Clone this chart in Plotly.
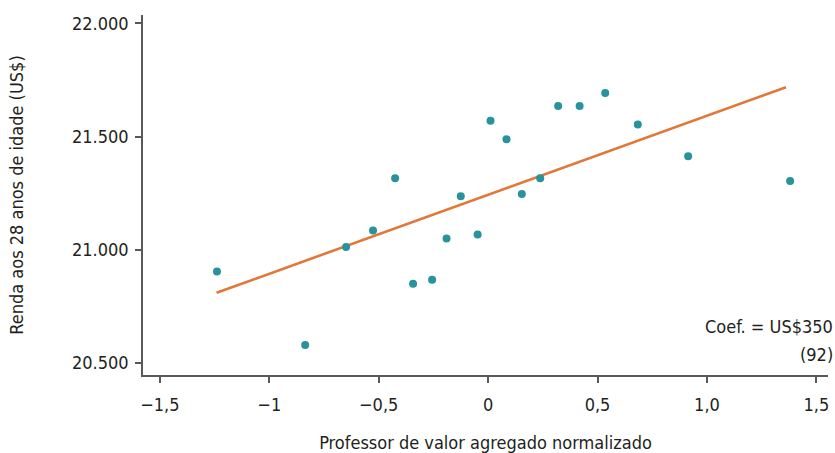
import plotly.graph_objects as go

# Data
teacher_va = [-1.239, -0.836, -0.649, -0.526, -0.425, -0.343, -0.256, -0.190, -0.125, -0.048,
              0.011, 0.084, 0.154, 0.238, 0.320, 0.418, 0.535, 0.684, 0.914, 1.380]
income_28 = [20904, 20580, 21012, 21085, 21316, 20850, 20868, 21050, 21237, 21067,
             21570, 21488, 21246, 21316, 21635, 21635, 21693, 21553, 21413, 21304]
fit_x = [-1.241, 1.361]
fit_y = [20810, 21718]

x_tickvals = [-1.5, -1, -0.5, 0, 0.5, 1.0, 1.5]
x_ticktext = ["−1,5", "−1", "−0,5", "0", "0,5", "1,0", "1,5"]
y_tickvals = [20500, 21000, 21500, 22000]
y_ticktext = ["20.500", "21.000", "21.500", "22.000"]

FONT = "Liberation Sans Narrow, DejaVu Sans Condensed, Arial Narrow, sans-serif"
TXT = "#231f20"
AX = "#58595b"

fig = go.Figure()
fig.add_trace(go.Scatter(x=fit_x, y=fit_y, mode="lines",
                         line=dict(color="#e2773a", width=2.6), hoverinfo="skip"))
fig.add_trace(go.Scatter(x=teacher_va, y=income_28, mode="markers",
                         marker=dict(color="#28939a", size=8, line=dict(width=0))))

fig.update_layout(
    width=835, height=453,
    margin=dict(l=143, r=7, t=15, b=78),
    plot_bgcolor="white", paper_bgcolor="white",
    showlegend=False,
    font=dict(family=FONT, size=18, color=TXT),
    xaxis=dict(range=[-1.577, 1.553], tickvals=x_tickvals, ticktext=x_ticktext,
               automargin=False,
               showgrid=False, zeroline=False, showline=True, linecolor=AX, linewidth=1.5,
               ticks="outside", ticklen=6, tickcolor=AX, tickwidth=1.5,
               ticklabelstandoff=7,
               tickfont=dict(size=18, color=TXT),
               title=dict(text="Professor de valor agregado normalizado",
                          font=dict(size=18, color=TXT), standoff=22)),
    yaxis=dict(range=[20447, 22037], tickvals=y_tickvals, ticktext=y_ticktext,
               automargin=False,
               showgrid=False, zeroline=False, showline=True, linecolor=AX, linewidth=1.5,
               ticks="outside", ticklen=6, tickcolor=AX, tickwidth=1.5,
               ticklabelstandoff=3,
               tickfont=dict(size=18, color=TXT),
               title=dict(text="Renda aos 28 anos de idade (US$)",
                          font=dict(size=18, color=TXT), standoff=44)),
    annotations=[
        dict(xref="paper", yref="paper", x=1, y=0, xshift=7, yshift=49, xanchor="right",
             yanchor="middle", text="Coef. = US$350", showarrow=False,
             font=dict(size=18, color=TXT)),
        dict(xref="paper", yref="paper", x=1, y=0, xshift=7, yshift=21, xanchor="right",
             yanchor="middle", text="(92)", showarrow=False,
             font=dict(size=18, color=TXT)),
    ],
)

fig.write_html("out.html")
